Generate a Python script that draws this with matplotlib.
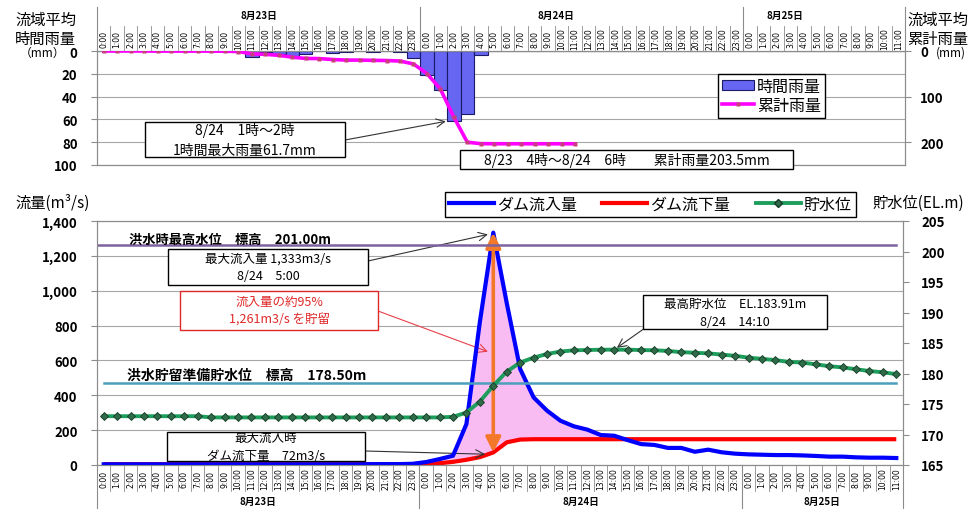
import numpy as np
import matplotlib
matplotlib.use('Agg')
import matplotlib.pyplot as plt
import matplotlib.transforms as mtransforms
from matplotlib.patches import Rectangle, Patch
from matplotlib.lines import Line2D

plt.rcParams['font.family'] = ['Noto Sans CJK JP', 'DejaVu Sans']

# 時刻（8/23 0:00 ～ 8/25 11:00, 1時間毎）
hour_labels = ([f"{h}:00" for h in range(24)] + [f"{h}:00" for h in range(24)]
               + [f"{h}:00" for h in range(12)])
day_labels = ['8月23日', '8月24日', '8月25日']

# 流域平均時間雨量 (mm)
rain_23 = [0, 0, 0, 0, 0.2, 0, 0, 0, 0.1, 0.2, 0.6, 5.2, 1.0, 2.2, 4.0, 2.8,
           0.3, 2.1, 1.2, 0.1, 0.5, 0.4, 1.1, 6.4]
rain_24 = [21.0, 34.0, 61.7, 55.0, 3.1, 0.2, 0.1, 0, 0, 0, 0, 0, 0, 0, 0, 0,
           0, 0, 0, 0, 0, 0, 0, 0]
rain_25 = [0, 0, 0, 0, 0, 0, 0, 0, 0, 0, 0, 0]

# 流域平均累計雨量 (mm) ※8/24 11:00まで
cum_23 = [0, 0, 0, 0, 0.2, 0.2, 0.2, 0.2, 0.3, 0.5, 1.1, 6.3, 7.3, 9.5, 13.5, 16.3,
          16.6, 18.7, 19.9, 20.0, 20.5, 20.9, 22.0, 28.4]
cum_24 = [49.4, 83.4, 145.1, 200.1, 203.2, 203.4, 203.5, 203.5, 203.5, 203.5, 203.5, 203.5]

# ダム流入量 (m3/s)
inflow_23 = [4, 4, 4, 4, 4, 4, 4, 4, 4, 4, 4, 4, 4, 4, 4, 4, 4, 4, 4, 4, 5, 5, 5, 7]
inflow_24 = [17, 34, 53, 235, 820, 1333, 930, 551, 388, 312, 254, 222, 203, 172, 168, 143,
             120, 115, 98, 98, 76, 88, 73, 65]
inflow_25 = [61, 59, 57, 57, 55, 52, 48, 48, 44, 42, 42, 40]

# ダム流下量 (m3/s)
outflow_23 = [5, 5, 5, 5, 5, 5, 5, 5, 5, 5, 5, 5, 5, 5, 5, 5, 5, 5, 5, 5, 5, 5, 5, 5]
outflow_24 = [6, 10, 18, 30, 45, 72, 130, 146, 148, 148, 148, 148, 148, 148, 148, 148,
              148, 148, 148, 148, 148, 148, 148, 148]
outflow_25 = [148, 148, 148, 148, 148, 148, 148, 148, 148, 148, 148, 148]

# 貯水位 (EL.m)
level_23 = [173.0, 173.0, 173.0, 173.0, 173.0, 173.0, 173.0, 173.0, 172.8, 172.8, 172.8, 172.8,
            172.8, 172.8, 172.8, 172.8, 172.8, 172.8, 172.8, 172.8, 172.8, 172.8, 172.8, 172.8]
level_24 = [172.8, 172.8, 172.9, 173.6, 175.4, 178.0, 180.3, 181.8, 182.6, 183.2, 183.6, 183.8,
            183.85, 183.9, 183.91, 183.9, 183.85, 183.8, 183.7, 183.5, 183.4, 183.3, 183.1, 182.9]
level_25 = [182.6, 182.4, 182.2, 181.9, 181.8, 181.5, 181.2, 181.0, 180.7, 180.4, 180.2, 179.9]

max_level_line = 201.00   # 洪水時最高水位
prep_level_line = 178.50  # 洪水貯留準備貯水位

rain = np.array(rain_23 + rain_24 + rain_25)
cum = np.array(cum_23 + cum_24)
inflow = np.array(inflow_23 + inflow_24 + inflow_25)
outflow = np.array(outflow_23 + outflow_24 + outflow_25)
level = np.array(level_23 + level_24 + level_25)
x = np.arange(len(hour_labels))

W, H = 971, 510
fig = plt.figure(figsize=(W / 100, H / 100), dpi=100)


def fx(px):
    return px / W


def fy(py):
    return 1 - py / H


grid_c = '#a6a6a6'
axis_c = '#8c8c8c'

# ---------------------------------------------------------------- 雨量グラフ
ax_t = fig.add_axes([fx(97), fy(166), (905 - 97) / W, (166 - 52) / H])
ax_t.bar(x, rain, width=1.0, color='#6666f2', edgecolor='#1a1a66', linewidth=0.8, zorder=3)
ax_t.set_xlim(-0.5, len(x) - 0.5)
ax_t.set_ylim(100, 0)
ax_t.set_yticks([0, 20, 40, 60, 80, 100])
ax_t.set_xticks([])
ax_t.grid(axis='y', color=grid_c, lw=0.8)
ax_t.set_axisbelow(True)
ax_t.tick_params(axis='y', length=4, color=axis_c, labelsize=9.5, pad=10)
for lab in ax_t.get_yticklabels():
    lab.set_fontweight('bold')

ax_t2 = ax_t.twinx()
ax_t2.plot(x[:len(cum)], cum, color='#ff00ff', lw=2.6, marker='s', ms=2.3,
           mfc='#c8407a', mec='none', zorder=4)
ax_t2.set_ylim(250, 0)
ax_t2.set_yticks([0, 100, 200])
ax_t2.tick_params(axis='y', length=4, color=axis_c, labelsize=9.5, pad=7)
for lab in ax_t2.get_yticklabels():
    lab.set_fontweight('bold')
for a in (ax_t, ax_t2):
    for s in a.spines.values():
        s.set_color(axis_c)

tr_t = mtransforms.blended_transform_factory(ax_t.transData, ax_t.transAxes)


def ya_t(py):
    return (166 - py) / 114


for i, lab in enumerate(hour_labels):
    ax_t.text(i, ya_t(39.5), lab, transform=tr_t, rotation=90, ha='center', va='center',
              fontsize=5.5, family='DejaVu Sans', clip_on=False)
    if i > 0:
        ax_t.plot([i - 0.5, i - 0.5], [1, ya_t(27)], transform=tr_t, color=axis_c,
                  lw=0.6, clip_on=False)
for b in [-0.5, 23.5, 47.5, 59.5]:
    ax_t.plot([b, b], [1, ya_t(8)], transform=tr_t, color=axis_c, lw=0.8, clip_on=False)
for pos, lab in zip([11.5, 33.6, 50.6], day_labels):
    ax_t.text(pos, ya_t(16), lab, transform=tr_t, ha='center', va='center', fontsize=7,
              fontweight='bold', clip_on=False)

fig.text(fx(15), fy(12), '流域平均\n時間雨量', ha='left', va='top', fontsize=11, linespacing=1.15)
fig.text(fx(42), fy(53), '（mm）', ha='center', va='center', fontsize=8.5)
fig.text(fx(907), fy(12), '流域平均\n累計雨量', ha='left', va='top', fontsize=11, linespacing=1.15)
fig.text(fx(936), fy(53), '(mm)', ha='left', va='center', fontsize=8.5)

leg_t = ax_t2.legend(
    handles=[Patch(facecolor='#6666f2', edgecolor='#1a1a66', lw=0.8, label='時間雨量'),
             Line2D([], [], color='#ff00ff', lw=2.6, marker='s', ms=2.3, mfc='#c8407a',
                    mec='none', label='累計雨量')],
    loc='upper left', bbox_to_anchor=((718 - 97) / 808, (166 - 75) / 114), borderaxespad=0,
    fontsize=11.5, handlelength=2.0, handleheight=0.6, handletextpad=0.2, labelspacing=0.1,
    borderpad=0.25, fancybox=False, framealpha=1, edgecolor='black')
leg_t.get_frame().set_linewidth(1.0)

# ---------------------------------------------------------------- 流量・貯水位グラフ
ax_b = fig.add_axes([fx(97), fy(466), (903 - 97) / W, (466 - 222) / H])
ax_b.fill_between(x, outflow, inflow, where=inflow > outflow, interpolate=True,
                  color='#f8bcf2', lw=0, zorder=2)
ax_b.plot(x, outflow, color='#ff0000', lw=3, zorder=3, solid_capstyle='butt')
ax_b.plot(x, inflow, color='#0000ff', lw=3, zorder=4)
ax_b.set_xlim(-0.5, len(x) - 0.5)
ax_b.set_ylim(0, 1400)
flow_ticks = [0, 200, 400, 600, 800, 1000, 1200, 1400]
ax_b.set_yticks(flow_ticks)
ax_b.set_yticklabels([f"{v:,}" for v in flow_ticks])
ax_b.set_xticks([])
ax_b.grid(axis='y', color=grid_c, lw=0.8)
ax_b.set_axisbelow(True)
ax_b.tick_params(axis='y', length=4, color=axis_c, labelsize=9.5, pad=10)
for lab in ax_b.get_yticklabels():
    lab.set_fontweight('bold')

ax_b2 = ax_b.twinx()
ax_b2.plot([-0.5, len(x) - 1], [max_level_line, max_level_line], color='#7d62a0', lw=1.8, zorder=2)
ax_b2.plot([0, len(x) - 1], [prep_level_line, prep_level_line], color='#4a9fbb', lw=1.8, zorder=2)
ax_b2.plot(x, level, color='#1e9e5c', lw=2.8, marker='D', ms=4.2, mfc='#2f6b48',
           mec='#163a26', mew=0.6, zorder=5)
ax_b2.set_ylim(165, 205)
ax_b2.set_yticks([165, 170, 175, 180, 185, 190, 195, 200, 205])
ax_b2.tick_params(axis='y', length=4, color=axis_c, labelsize=9.5, pad=9)
for lab in ax_b2.get_yticklabels():
    lab.set_fontweight('bold')
for a in (ax_b, ax_b2):
    for s in a.spines.values():
        s.set_color(axis_c)

# 最大流入時の貯留量（矢印）
ax_b.annotate('', xy=(29, outflow[29]), xytext=(29, inflow[29]),
              arrowprops=dict(arrowstyle='<|-|>,head_length=0.9,head_width=0.45',
                              color='#f4782a', lw=2.6, shrinkA=0, shrinkB=0), zorder=8)

ax_b2.text(1.9, 200.95, '洪水時最高水位　標高　201.00m', ha='left', va='bottom',
           fontsize=9.5, fontweight='bold', zorder=6)
ax_b2.text(1.7, 178.65, '洪水貯留準備貯水位　標高　178.50m', ha='left', va='bottom',
           fontsize=10, fontweight='bold', zorder=6)

tr_b = mtransforms.blended_transform_factory(ax_b.transData, ax_b.transAxes)


def ya_b(py):
    return (466 - py) / 244


for i, lab in enumerate(hour_labels):
    ax_b.text(i, ya_b(479.5), lab, transform=tr_b, rotation=90, ha='center', va='center',
              fontsize=5.5, family='DejaVu Sans', clip_on=False)
    if i > 0:
        ax_b.plot([i - 0.5, i - 0.5], [0, ya_b(492)], transform=tr_b, color=axis_c,
                  lw=0.6, clip_on=False)
for b in [-0.5, 23.5, 47.5, 59.5]:
    ax_b.plot([b, b], [0, ya_b(510)], transform=tr_b, color=axis_c, lw=0.8, clip_on=False)
for pos, lab in zip([11.5, 35.5, 53.5], day_labels):
    ax_b.text(pos, ya_b(502), lab, transform=tr_b, ha='center', va='center', fontsize=7,
              fontweight='bold', clip_on=False)

fig.text(fx(15), fy(203), '流量(m³/s)', ha='left', va='center', fontsize=11)
fig.text(fx(872), fy(203), '貯水位(EL.m)', ha='left', va='center', fontsize=11)

leg_b = ax_b2.legend(
    handles=[Line2D([], [], color='#0000ff', lw=3, label='ダム流入量'),
             Line2D([], [], color='#ff0000', lw=3, label='ダム流下量'),
             Line2D([], [], color='#1e9e5c', lw=2.8, marker='D', ms=4.2, mfc='#2f6b48',
                    mec='#163a26', label='貯水位')],
    loc='upper left', bbox_to_anchor=((445 - 97) / 806, (466 - 193) / 244), borderaxespad=0,
    ncol=3, fontsize=11.5, handlelength=2.8, handletextpad=0.2, columnspacing=1.6,
    borderpad=0.25, fancybox=False, framealpha=1, edgecolor='black')
leg_b.get_frame().set_linewidth(1.0)


# ---------------------------------------------------------------- 吹き出し
def box(x0, y0, x1, y1, text, color='black', fs=9):
    fig.add_artist(Rectangle((fx(x0), fy(y1)), (x1 - x0) / W, (y1 - y0) / H,
                             transform=fig.transFigure, facecolor='white', edgecolor=color,
                             lw=1.0, zorder=10))
    fig.text(fx((x0 + x1) / 2), fy((y0 + y1) / 2), text, ha='center', va='center',
             color=color, fontsize=fs, linespacing=1.5, zorder=11)


arrow_k = dict(arrowstyle='->,head_length=0.6,head_width=0.3', color='#333333', lw=0.8,
               shrinkA=0, shrinkB=0)
arrow_r = dict(arrowstyle='->,head_length=0.6,head_width=0.3', color='#e8404a', lw=0.8,
               shrinkA=0, shrinkB=0)

box(145, 123, 345, 158, '8/24　1時～2時\n1時間最大雨量61.7mm', fs=10)
ax_t.annotate('', xy=(25.4, rain[26]), xytext=(fx(345), fy(141)),
              textcoords='figure fraction', arrowprops=arrow_k)
box(460, 151, 793, 170, '8/23　4時～8/24　6時　　累計雨量203.5mm', fs=10)

box(168, 250, 368, 286, '最大流入量 1,333m3/s\n8/24　5:00')
ax_b.annotate('', xy=(28.6, inflow[29] - 10), xytext=(fx(368), fy(262)),
              textcoords='figure fraction', arrowprops=arrow_k)
box(180, 292, 378, 331, '流入量の約95%\n1,261m3/s を貯留', color='#e02828')
ax_b.annotate('', xy=(28.6, 650), xytext=(fx(378), fy(312)),
              textcoords='figure fraction', arrowprops=arrow_r)
box(643, 296, 827, 330, '最高貯水位　EL.183.91m\n8/24　14:10')
ax_b2.annotate('', xy=(38.2, level[38] + 0.3), xytext=(fx(645), fy(329)),
               textcoords='figure fraction', arrowprops=arrow_k)
box(167, 433, 365, 462, '最大流入時\nダム流下量　72m3/s')
ax_b.annotate('', xy=(28.4, outflow[29] - 10), xytext=(fx(365), fy(452)),
              textcoords='figure fraction', arrowprops=arrow_k)

fig.savefig('out.png', dpi=100)
